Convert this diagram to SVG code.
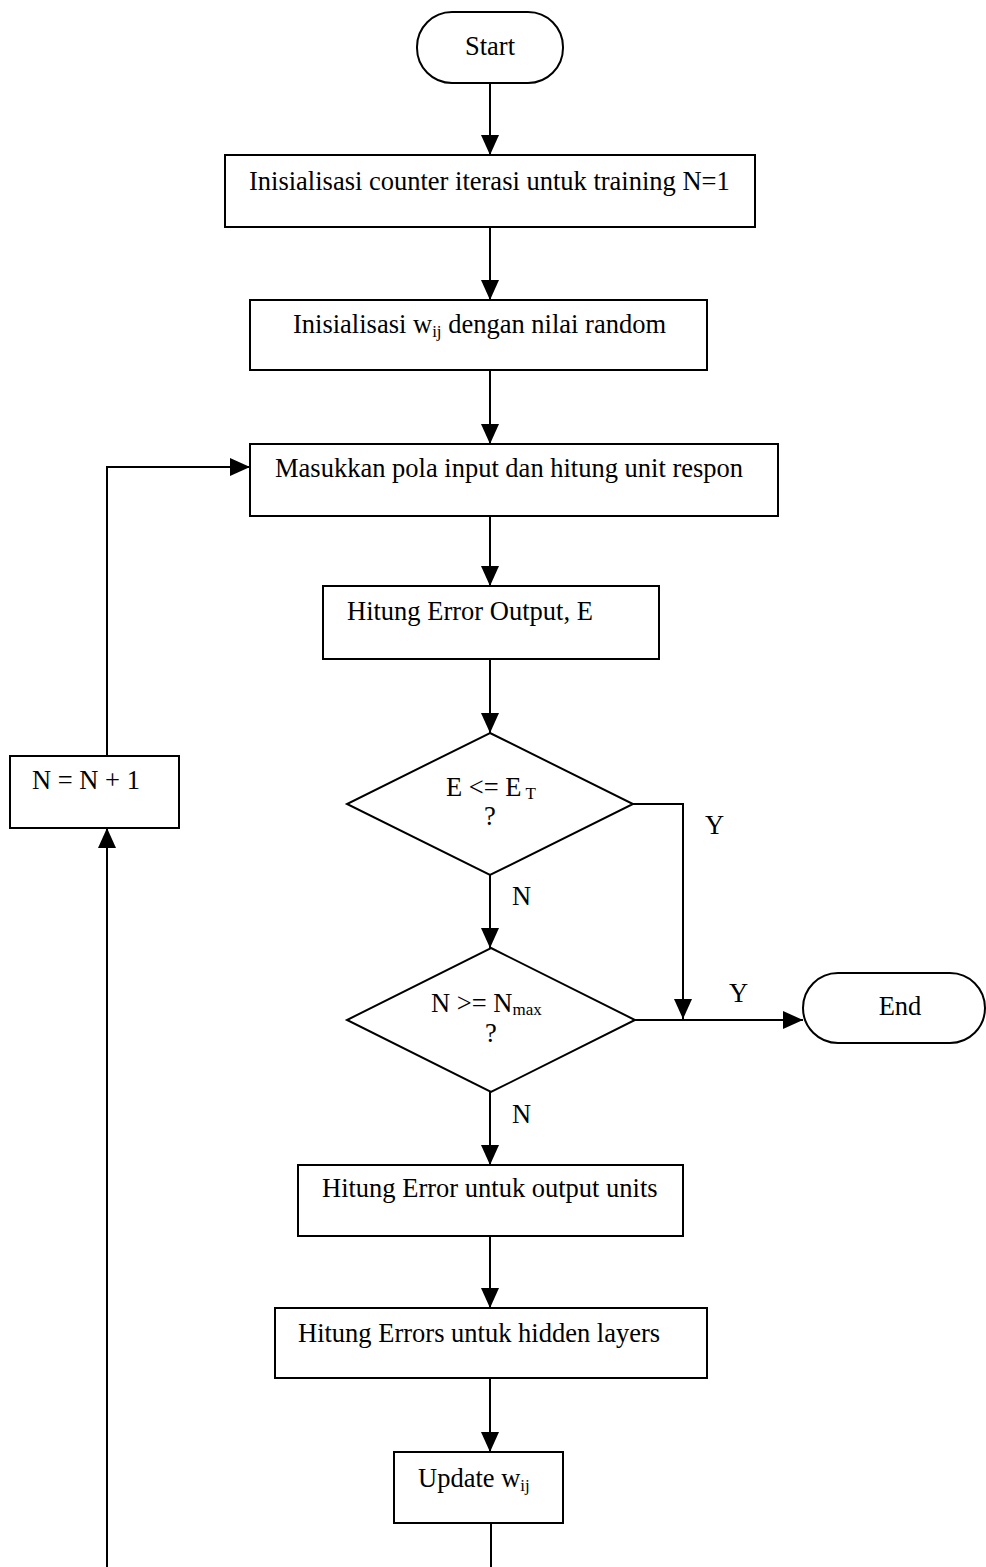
<svg xmlns="http://www.w3.org/2000/svg" width="986" height="1567" viewBox="0 0 986 1567">
<style>
.s{fill:#fff;stroke:#000;stroke-width:2}
.c{fill:none;stroke:#000;stroke-width:2}
text{font-family:"Liberation Serif","Times New Roman",serif;font-size:26.5px;fill:#000}
.sub{font-size:17px}
</style>
<defs>
<marker id="a" markerUnits="userSpaceOnUse" viewBox="0 0 20 18" markerWidth="20" markerHeight="18" refX="20" refY="9" orient="auto">
<path d="M0,0 L20,9 L0,18 z" fill="#000"/>
</marker>
</defs>
<rect width="986" height="1567" fill="#fff"/>
<g id="connectors">
<path class="c" d="M490,83 V155" marker-end="url(#a)"/>
<path class="c" d="M490,227 V300" marker-end="url(#a)"/>
<path class="c" d="M490,370 V444" marker-end="url(#a)"/>
<path class="c" d="M490,516 V586" marker-end="url(#a)"/>
<path class="c" d="M490,659 V733" marker-end="url(#a)"/>
<path class="c" d="M490,875 V948" marker-end="url(#a)"/>
<path class="c" d="M633,804 H683 V1019" marker-end="url(#a)"/>
<path class="c" d="M635,1020 H803" marker-end="url(#a)"/>
<path class="c" d="M490,1092 V1165" marker-end="url(#a)"/>
<path class="c" d="M490,1236 V1308" marker-end="url(#a)"/>
<path class="c" d="M490,1378 V1452" marker-end="url(#a)"/>
<path class="c" d="M491,1523 V1567"/>
<path class="c" d="M107,1567 V828" marker-end="url(#a)"/>
<path class="c" d="M107,756 V467 H250" marker-end="url(#a)"/>
<text x="705" y="834">Y</text>
<text x="512" y="905">N</text>
<text x="729" y="1002">Y</text>
<text x="512" y="1123">N</text>
</g>
<g id="start">
<rect class="s" x="417" y="12" width="146" height="71" rx="35" ry="35"/>
<text x="490" y="55" text-anchor="middle">Start</text>
</g>
<g id="init-counter">
<rect class="s" x="225" y="155" width="530" height="72"/>
<text x="249" y="190">Inisialisasi counter iterasi untuk training N=1</text>
</g>
<g id="init-weights">
<rect class="s" x="250" y="300" width="457" height="70"/>
<text x="293" y="333">Inisialisasi w<tspan class="sub" dy="4">ij</tspan><tspan dy="-4"> dengan nilai random</tspan></text>
</g>
<g id="input">
<rect class="s" x="250" y="444" width="528" height="72"/>
<text x="275" y="477">Masukkan pola input dan hitung unit respon</text>
</g>
<g id="error-output">
<rect class="s" x="323" y="586" width="336" height="73"/>
<text x="347" y="620">Hitung Error Output, E</text>
</g>
<g id="decision-error">
<polygon class="s" points="490,733 633,804 490,875 347,804"/>
<text x="446" y="796">E &lt;= E<tspan class="sub" dy="3"> T</tspan></text>
<text x="490" y="825" text-anchor="middle">?</text>
</g>
<g id="decision-iter">
<polygon class="s" points="491,948 635,1020 491,1092 347,1020"/>
<text x="431" y="1012">N &gt;= N<tspan class="sub" dy="3">max</tspan></text>
<text x="491" y="1042" text-anchor="middle">?</text>
</g>
<g id="end">
<rect class="s" x="803" y="973" width="182" height="70" rx="35" ry="35"/>
<text x="900" y="1015" text-anchor="middle">End</text>
</g>
<g id="error-units">
<rect class="s" x="298" y="1165" width="385" height="71"/>
<text x="322" y="1197">Hitung Error untuk output units</text>
</g>
<g id="error-hidden">
<rect class="s" x="275" y="1308" width="432" height="70"/>
<text x="298" y="1342">Hitung Errors untuk hidden layers</text>
</g>
<g id="update">
<rect class="s" x="394" y="1452" width="169" height="71"/>
<text x="418" y="1487">Update w<tspan class="sub" dy="4">ij</tspan></text>
</g>
<g id="increment">
<rect class="s" x="10" y="756" width="169" height="72"/>
<text x="32" y="789">N = N + 1</text>
</g>
</svg>
